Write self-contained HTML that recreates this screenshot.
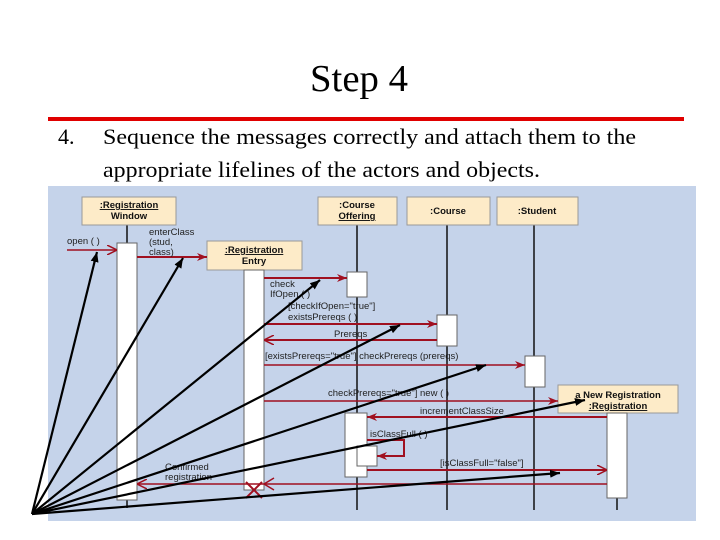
<!DOCTYPE html>
<html><head><meta charset="utf-8"><style>
body{margin:0;background:#fff;width:720px;height:540px;overflow:hidden}
svg{display:block}
.s{font-family:"Liberation Serif",serif;fill:#000}
.d{font-family:"Liberation Sans",sans-serif;font-size:9.5px;fill:#222}
.b{font-family:"Liberation Sans",sans-serif;font-size:9.5px;font-weight:bold;fill:#111}
</style></head><body>
<svg width="720" height="540" viewBox="0 0 720 540">
<defs>
<marker id="rf" markerWidth="10" markerHeight="8" refX="10" refY="4" orient="auto" markerUnits="userSpaceOnUse"><path d="M0,0 L10,4 L0,8 L3,4z" fill="#a01020"/></marker>
<marker id="ro" markerWidth="10" markerHeight="10" refX="10" refY="5" orient="auto" markerUnits="userSpaceOnUse"><path d="M0,0 L10,5 L0,10" fill="none" stroke="#a01020" stroke-width="1.5"/></marker>
<marker id="bk" markerWidth="10" markerHeight="8" refX="10" refY="4" orient="auto" markerUnits="userSpaceOnUse"><path d="M0,0 L10,4 L0,8z" fill="#000"/></marker>
</defs>
<text x="310" y="91" class="s" font-size="38" textLength="98" lengthAdjust="spacingAndGlyphs">Step 4</text>
<rect x="48" y="117" width="636" height="4" fill="#e00000"/>
<text x="58" y="144" class="s" font-size="22">4.</text>
<text x="103" y="144" class="s" font-size="22" textLength="533" lengthAdjust="spacingAndGlyphs">Sequence the messages correctly and attach them to the</text>
<text x="103" y="177" class="s" font-size="22" textLength="437" lengthAdjust="spacingAndGlyphs">appropriate lifelines of the actors and objects.</text>
<rect x="48" y="186" width="648" height="335" fill="#c5d3ea"/>
<g stroke="#111" stroke-width="1.5">
<line x1="127" y1="225" x2="127" y2="508"/><line x1="254" y1="270" x2="254" y2="490"/>
<line x1="357" y1="225" x2="357" y2="510"/><line x1="447" y1="225" x2="447" y2="510"/>
<line x1="534" y1="225" x2="534" y2="510"/><line x1="617" y1="413" x2="617" y2="510"/>
</g>
<g fill="#fdebc8" stroke="#999">
<rect x="82" y="197" width="94" height="28"/><rect x="207" y="241" width="95" height="29"/>
<rect x="318" y="197" width="79" height="28"/><rect x="407" y="197" width="83" height="28"/>
<rect x="497" y="197" width="81" height="28"/><rect x="558" y="385" width="120" height="28"/>
</g>
<text x="129" y="208" text-anchor="middle" class="b" text-decoration="underline">:Registration</text>
<text x="129" y="219" text-anchor="middle" class="b">Window</text>
<text x="254" y="253" text-anchor="middle" class="b" text-decoration="underline">:Registration</text>
<text x="254" y="264" text-anchor="middle" class="b">Entry</text>
<text x="357" y="208" text-anchor="middle" class="b">:Course</text>
<text x="357" y="219" text-anchor="middle" class="b" text-decoration="underline">Offering</text>
<text x="448" y="214" text-anchor="middle" class="b">:Course</text>
<text x="537" y="214" text-anchor="middle" class="b">:Student</text>
<text x="618" y="398" text-anchor="middle" class="b">a New Registration</text>
<text x="618" y="409" text-anchor="middle" class="b" text-decoration="underline">:Registration</text>
<g fill="#fff" stroke="#666">
<rect x="117" y="243" width="20" height="257"/><rect x="244" y="270" width="20" height="220"/>
<rect x="347" y="272" width="20" height="25"/><rect x="437" y="315" width="20" height="31"/>
<rect x="525" y="356" width="20" height="31"/><rect x="345" y="413" width="22" height="64"/>
<rect x="357" y="446" width="20" height="20"/><rect x="607" y="413" width="20" height="85"/>
</g>
<g stroke="#a01020" stroke-width="1.5" fill="none">
<line x1="67" y1="250" x2="117" y2="250" marker-end="url(#ro)"/>
<line x1="137" y1="257" x2="207" y2="257" stroke-width="2" marker-end="url(#rf)"/>
<line x1="264" y1="278" x2="347" y2="278" stroke-width="2" marker-end="url(#rf)"/>
<line x1="264" y1="324" x2="437" y2="324" stroke-width="2" marker-end="url(#rf)"/>
<line x1="437" y1="340" x2="264" y2="340" stroke-width="2" marker-end="url(#ro)"/>
<line x1="264" y1="365" x2="525" y2="365" marker-end="url(#rf)"/>
<line x1="264" y1="401" x2="558" y2="401" marker-end="url(#rf)"/>
<line x1="607" y1="417" x2="367" y2="417" stroke-width="2" marker-end="url(#rf)"/>
<polyline points="367,440 404,440 404,456 377,456" stroke-width="2" marker-end="url(#rf)"/>
<line x1="367" y1="470" x2="607" y2="470" stroke-width="2" marker-end="url(#ro)"/>
<line x1="607" y1="484" x2="137" y2="484" marker-end="url(#ro)"/>
<path d="M274,478 L264,484 L274,490"/>
<path d="M246,482 L262,498 M262,482 L246,498" stroke-width="2"/>
</g>
<text x="67" y="244" class="d">open ( )</text>
<text x="149" y="235" class="d">enterClass</text><text x="149" y="245" class="d">(stud,</text><text x="149" y="255" class="d">class)</text>
<text x="270" y="287" class="d">check</text><text x="270" y="297" class="d">IfOpen ( )</text>
<text x="288" y="309" class="d">[checkIfOpen="true"]</text><text x="288" y="320" class="d">existsPrereqs ( )</text>
<text x="334" y="337" class="d">Prereqs</text>
<text x="265" y="359" class="d">[existsPrereqs="true"] checkPrereqs (prereqs)</text>
<text x="328" y="396" class="d">checkPrereqs="true"] new ( )</text>
<text x="420" y="414" class="d">incrementClassSize</text>
<text x="370" y="437" class="d">isClassFull ( )</text>
<text x="440" y="466" class="d">[isClassFull="false"]</text>
<text x="165" y="470" class="d">Confirmed</text><text x="165" y="480" class="d">registration</text>
<g stroke="#000" stroke-width="2.2" marker-end="url(#bk)">
<line x1="32" y1="514" x2="97" y2="252"/><line x1="32" y1="514" x2="183" y2="258"/>
<line x1="32" y1="514" x2="320" y2="280"/><line x1="32" y1="514" x2="400" y2="325"/>
<line x1="32" y1="514" x2="486" y2="365"/><line x1="32" y1="514" x2="585" y2="400"/>
<line x1="32" y1="514" x2="560" y2="473"/>
</g>
</svg>
</body></html>
